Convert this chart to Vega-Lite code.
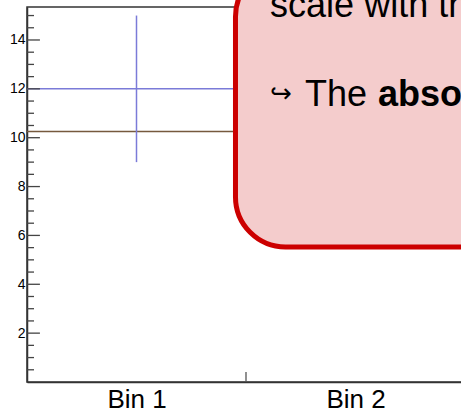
{
  "$schema": "https://vega.github.io/schema/vega-lite/v6.json",
  "width": 657,
  "height": 375,
  "autosize": "none",
  "padding": {"left": 27, "top": 7, "right": 0, "bottom": 30},
  "background": "white",
  "config": {
    "view": {"stroke": "#333333", "strokeWidth": 1.5},
    "font": "Liberation Sans"
  },
  "datasets": {
    "point": [{"bin": 0.5, "lo": 0, "hi": 1, "value": 12, "ylo": 9, "yhi": 15}],
    "fit": [{"x0": 0, "x1": 3, "level": 10.25}],
    "minor": [{"v": 0.5}, {"v": 1}, {"v": 1.5}, {"v": 2.5}, {"v": 3}, {"v": 3.5}, {"v": 4.5}, {"v": 5}, {"v": 5.5}, {"v": 6.5}, {"v": 7}, {"v": 7.5}, {"v": 8.5}, {"v": 9}, {"v": 9.5}, {"v": 10.5}, {"v": 11}, {"v": 11.5}, {"v": 12.5}, {"v": 13}, {"v": 13.5}, {"v": 14.5}, {"v": 15}],
    "major": [{"v": 2}, {"v": 4}, {"v": 6}, {"v": 8}, {"v": 10}, {"v": 12}, {"v": 14}],
    "binEdge": [{"e": 1, "y0": 0, "y1": 0.41}],
    "box": [{"x0": 0.952, "x1": 3.2, "y0": 5.53, "y1": 17}],
    "plainTexts": [
      {"x": 1.11, "y": 14.94, "t": "scale with the", "s": 36},
      {"x": 1.11, "y": 11.45, "t": "↪", "s": 26},
      {"x": 1.2694, "y": 11.31, "t": "The", "s": 36}
    ],
    "boldTexts": [
      {"x": 1.6027, "y": 11.31, "t": "absolute", "s": 36}
    ]
  },
  "layer": [
    {
      "data": {"name": "fit"},
      "mark": {"type": "rule", "color": "#76593d", "strokeWidth": 1.5},
      "encoding": {
        "x": {"field": "x0", "type": "quantitative",
          "scale": {"domain": [0, 3], "nice": false, "zero": false},
          "axis": {"values": [0.5, 1.5], "labelExpr": "'Bin ' + ceil(datum.value)", "ticks": false, "grid": false, "title": null, "labelFontSize": 26, "labelColor": "#000000", "labelPadding": 4, "domainColor": "#333333", "domainWidth": 1.5, "labelFont": "Liberation Sans"}},
        "x2": {"field": "x1"},
        "y": {"field": "level", "type": "quantitative",
          "scale": {"domain": [0, 15.35], "nice": false, "zero": false},
          "axis": {"values": [2, 4, 6, 8, 10, 12, 14], "ticks": false, "grid": false, "title": null, "labelFontSize": 14, "labelColor": "#000000", "labelPadding": 2, "domainColor": "#333333", "domainWidth": 1.5, "labelFont": "Liberation Sans"}}
      }
    },
    {
      "data": {"name": "point"},
      "mark": {"type": "rule", "color": "#7b7bd8", "strokeWidth": 1.5},
      "encoding": {
        "x": {"field": "lo", "type": "quantitative"},
        "x2": {"field": "hi"},
        "y": {"field": "value", "type": "quantitative"}
      }
    },
    {
      "data": {"name": "point"},
      "mark": {"type": "rule", "color": "#7b7bd8", "strokeWidth": 1.5},
      "encoding": {
        "x": {"field": "bin", "type": "quantitative"},
        "y": {"field": "ylo", "type": "quantitative"},
        "y2": {"field": "yhi"}
      }
    },
    {
      "data": {"name": "minor"},
      "mark": {"type": "rule", "color": "#444444", "strokeWidth": 1.3},
      "encoding": {
        "x": {"datum": 0, "type": "quantitative"},
        "x2": {"datum": 0.032},
        "y": {"field": "v", "type": "quantitative"}
      }
    },
    {
      "data": {"name": "major"},
      "mark": {"type": "rule", "color": "#444444", "strokeWidth": 1.3},
      "encoding": {
        "x": {"datum": 0, "type": "quantitative"},
        "x2": {"datum": 0.059},
        "y": {"field": "v", "type": "quantitative"}
      }
    },
    {
      "data": {"name": "binEdge"},
      "mark": {"type": "rule", "color": "#555555", "strokeWidth": 1.3},
      "encoding": {
        "x": {"field": "e", "type": "quantitative"},
        "y": {"field": "y0", "type": "quantitative"},
        "y2": {"field": "y1"}
      }
    },
    {
      "data": {"name": "box"},
      "mark": {"type": "rect", "fill": "#f4cccc", "stroke": "#cc0000", "strokeWidth": 5, "cornerRadius": 50, "clip": false},
      "encoding": {
        "x": {"field": "x0", "type": "quantitative"},
        "x2": {"field": "x1"},
        "y": {"field": "y0", "type": "quantitative"},
        "y2": {"field": "y1"}
      }
    },
    {
      "data": {"name": "plainTexts"},
      "mark": {"type": "text", "align": "left", "baseline": "alphabetic", "color": "#000000", "font": "Liberation Sans", "fontWeight": "normal"},
      "encoding": {
        "x": {"field": "x", "type": "quantitative"},
        "y": {"field": "y", "type": "quantitative"},
        "text": {"field": "t"},
        "size": {"field": "s", "type": "quantitative", "scale": null}
      }
    },
    {
      "data": {"name": "boldTexts"},
      "mark": {"type": "text", "align": "left", "baseline": "alphabetic", "color": "#000000", "font": "Liberation Sans", "fontWeight": "bold"},
      "encoding": {
        "x": {"field": "x", "type": "quantitative"},
        "y": {"field": "y", "type": "quantitative"},
        "text": {"field": "t"},
        "size": {"field": "s", "type": "quantitative", "scale": null}
      }
    }
  ]
}
